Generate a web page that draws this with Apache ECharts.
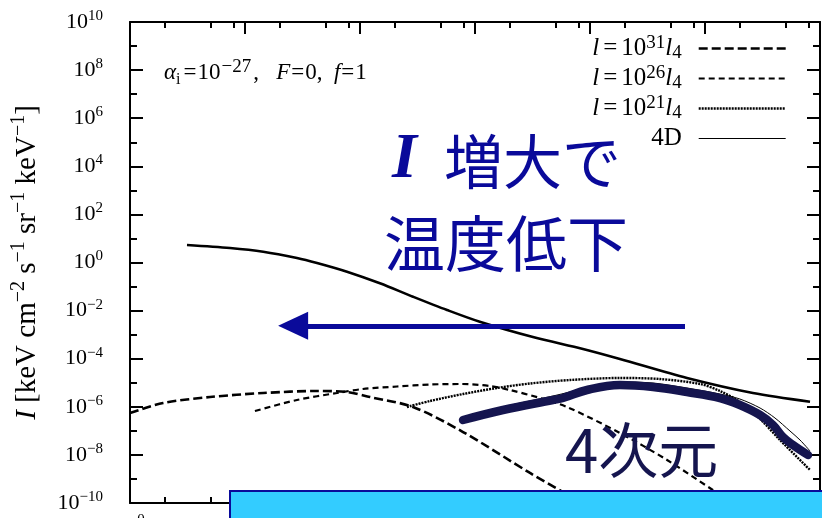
<!DOCTYPE html>
<html>
<head>
<meta charset="utf-8">
<script src="https://cdn.jsdelivr.net/npm/echarts@6/dist/echarts.min.js"></script>
<style>
  html, body { margin: 0; padding: 0; background: #ffffff; }
  #chart { width: 822px; height: 518px; }
</style>
</head>
<body>
<div id="chart"></div>
<script>
// ---- tick positions (photon energy on x, intensity on y, both logarithmic) ----
const xMajorTicks = [1, 10, 100, 1e3, 1e4, 1e5, 1e6];
const xMinorTicks = [2, 5, 8, 20, 50, 80, 200, 500, 800, 2e3, 5e3, 8e3,
                     2e4, 5e4, 8e4, 2e5, 5e5, 8e5];
const yMajorTicks = [1e-10, 1e-8, 1e-6, 1e-4, 1e-2, 1, 1e2, 1e4, 1e6, 1e8, 1e10];
const yMinorTicks = [1e-9, 1e-7, 1e-5, 1e-3, 1e-1, 1e1, 1e3, 1e5, 1e7, 1e9];

// ---- spectra ----
// upper solid spectrum
const upperE = [3.13, 7.41, 14.4, 28.3, 42.3, 77.1, 149, 289, 571, 1100, 3190, 8690, 18200, 69700, 261000, 819000];
const upperI = [5.35, 4.01, 2.81, 1.54, 0.953, 0.414, 0.136, 0.0378, 0.0106, 3.45e-3, 7.98e-4, 2.53e-4, 9.73e-5, 1.58e-5, 3.75e-6, 1.63e-6];
// l = 10^31 l4
const l31E = [1, 1.94, 4.97, 14.4, 42.3, 77.1, 122, 289, 787, 3010, 5820, 10000];
const l31I = [5.52e-7, 1.44e-6, 2.55e-6, 3.75e-6, 4.54e-6, 4.12e-6, 2.55e-6, 9.82e-7, 8.95e-8, 1.77e-9, 2.86e-10, 6.19e-11];
// l = 10^26 l4
const l26E = [12.2, 28.3, 63.1, 106, 210, 406, 741, 1350, 2010, 3670, 6310, 18200, 46800, 117000, 201000];
const l26I = [6.68e-7, 1.92e-6, 3.75e-6, 5.50e-6, 6.98e-6, 8.45e-6, 8.87e-6, 7.33e-6, 5.00e-6, 2.32e-6, 9.82e-7, 8.15e-8, 6.14e-9, 3.48e-10, 6.82e-11];
// l = 10^21 l4
const l21E = [256, 406, 787, 1550, 3010, 6700, 18200, 40600, 90600, 135000, 201000, 301000, 449000, 819000];
const l21I = [9.82e-7, 1.74e-6, 3.40e-6, 6.05e-6, 9.31e-6, 1.30e-5, 1.58e-5, 1.43e-5, 8.87e-6, 4.54e-6, 1.58e-6, 3.11e-7, 4.17e-8, 2.36e-9];
// 4D
const fourDE = [818, 1750, 4760, 9420, 18200, 35300, 69700, 135000, 201000, 301000, 406000, 548000, 670000, 819000];
const fourDI = [3.42e-7, 9.82e-7, 2.81e-6, 6.05e-6, 1.07e-5, 9.77e-6, 6.05e-6, 3.40e-6, 2.11e-6, 8.91e-7, 3.42e-7, 9.86e-8, 4.17e-8, 1.45e-8];
// hand-drawn highlight along the 4D spectrum
const traceE = [787, 1750, 4760, 5820, 9420, 18200, 35300, 69700, 135000, 201000, 301000, 390000, 476000, 582000, 787000];
const traceI = [2.82e-7, 7.36e-7, 1.92e-6, 2.32e-6, 5.00e-6, 8.05e-6, 6.65e-6, 4.12e-6, 2.32e-6, 1.19e-6, 4.56e-7, 1.75e-7, 5.55e-8, 2.58e-8, 9.91e-9];

// arrow: "I increases -> temperature drops"
const arrowFromE = 67000;
const arrowToE = 26.2;
const arrowI = 2.34e-3;

const SERIF = "'Liberation Serif', 'Times New Roman', serif";
const CJK = "'Noto Sans CJK JP', 'Noto Sans CJK SC', sans-serif";
const BLUE = '#0a0a9a';
const NAVY = '#15154f';

const zip = (xs, ys) => xs.map((x, i) => [x, ys[i]]);

const powerLabel = v => {
  const e = Math.round(Math.log10(v));
  return '{b|10}{s|' + (e < 0 ? '\u2212' : '') + Math.abs(e) + '}';
};
const tickRich = {
  b: { fontFamily: SERIF, fontSize: 22, lineHeight: 27, color: '#000' },
  s: { fontFamily: SERIF, fontSize: 15, lineHeight: 15, color: '#000', verticalAlign: 'top' }
};

const frame = { show: true, lineStyle: { color: '#000', width: 2 } };
const noLine = { show: false };

function xAxisDef(grid, pos, ticks, len, withLine, withLabel) {
  return {
    gridIndex: grid, type: 'log', logBase: 10, min: 1, max: 1e6, position: pos,
    axisLine: withLine ? frame : noLine,
    axisTick: { show: true, inside: true, length: len, customValues: ticks,
                lineStyle: { color: '#000', width: 2 } },
    axisLabel: withLabel
      ? { show: true, customValues: ticks, formatter: powerLabel, rich: tickRich, margin: 10 }
      : { show: false },
    splitLine: { show: false }, minorTick: { show: false }
  };
}
function yAxisDef(grid, pos, ticks, len, withLine, withLabel) {
  const ax = {
    gridIndex: grid, type: 'log', logBase: 10, min: 1e-10, max: 1e10, position: pos,
    axisLine: withLine ? frame : noLine,
    axisTick: { show: true, inside: true, length: len, customValues: ticks,
                lineStyle: { color: '#000', width: 2 } },
    axisLabel: withLabel
      ? { show: true, customValues: ticks, formatter: powerLabel, rich: tickRich, margin: 27 }
      : { show: false },
    splitLine: { show: false }, minorTick: { show: false }
  };
  if (withLabel) {
    ax.name = '{i|I} [keV cm{s|\u22122} s{s|\u22121} sr{s|\u22121} keV{s|\u22121}]';
    ax.nameLocation = 'middle';
    ax.nameRotate = 90;
    ax.nameGap = 80;
    ax.nameTextStyle = {
      fontFamily: SERIF, fontSize: 29, lineHeight: 38, color: '#000',
      rich: {
        i: { fontFamily: SERIF, fontSize: 29, lineHeight: 38, fontStyle: 'italic', color: '#000' },
        s: { fontFamily: SERIF, fontSize: 20, lineHeight: 19, verticalAlign: 'top', color: '#000' }
      }
    };
  }
  return ax;
}

const legendNames = {
  'l31': '{i|l}{e|=}{n|10}{p|31}{i|l}{d|4}',
  'l26': '{i|l}{e|=}{n|10}{p|26}{i|l}{d|4}',
  'l21': '{i|l}{e|=}{n|10}{p|21}{i|l}{d|4}',
  '4D': '{n|4D}'
};

const lineSeries = (name, xs, ys, width, dash, extra) => Object.assign({
  type: 'line', name: name, data: zip(xs, ys),
  xAxisIndex: 0, yAxisIndex: 0,
  symbol: 'none', showSymbol: false, smooth: 0.3, clip: true,
  itemStyle: { color: '#000' },
  lineStyle: { color: '#000', width: width, type: dash, cap: 'butt' },
  emphasis: { disabled: true }, silent: true
}, extra || {});

const chart = echarts.init(document.getElementById('chart'), null, { renderer: 'canvas' });
chart.setOption({
  animation: false,
  backgroundColor: '#ffffff',
  grid: [
    { left: 130, top: 22, width: 690, height: 481, outerBoundsMode: 'none', containLabel: false },
    { left: 130, top: 22, width: 690, height: 481, outerBoundsMode: 'none', containLabel: false }
  ],
  xAxis: [
    xAxisDef(0, 'bottom', xMajorTicks, 12, true, true),
    xAxisDef(0, 'top', xMajorTicks, 12, true, false),
    xAxisDef(1, 'bottom', xMinorTicks, 6, false, false),
    xAxisDef(1, 'top', xMinorTicks, 6, false, false)
  ],
  yAxis: [
    yAxisDef(0, 'left', yMajorTicks, 13, true, true),
    yAxisDef(0, 'right', yMajorTicks, 13, true, false),
    yAxisDef(1, 'left', yMinorTicks, 7, false, false),
    yAxisDef(1, 'right', yMinorTicks, 7, false, false)
  ],
  legend: {
    data: [
      { name: 'l31', lineStyle: { width: 2.6 } },
      { name: 'l26', lineStyle: { width: 2.2 } },
      { name: 'l21', lineStyle: { width: 2.4 } },
      { name: '4D', lineStyle: { width: 1 } }
    ],
    orient: 'vertical', right: 35, top: 34, align: 'right',
    itemWidth: 87, itemHeight: 14, itemGap: 1, padding: 0,
    selectedMode: false,
    itemStyle: { opacity: 0 },
    formatter: n => legendNames[n],
    textStyle: {
      fontFamily: SERIF, fontSize: 25, lineHeight: 29, color: '#000', padding: [0, 12, 0, 0],
      rich: {
        i: { fontFamily: SERIF, fontSize: 25, lineHeight: 29, fontStyle: 'italic', color: '#000' },
        e: { fontFamily: SERIF, fontSize: 25, lineHeight: 29, color: '#000', padding: [0, 4, 0, 4] },
        n: { fontFamily: SERIF, fontSize: 25, lineHeight: 29, color: '#000' },
        p: { fontFamily: SERIF, fontSize: 19, lineHeight: 15, verticalAlign: 'top', color: '#000' },
        d: { fontFamily: SERIF, fontSize: 19, lineHeight: 12, verticalAlign: 'bottom', color: '#000' }
      }
    }
  },
  series: [
    lineSeries('l31', l31E, l31I, 2.6, [9, 4]),
    lineSeries('l26', l26E, l26I, 2.2, [6, 4]),
    lineSeries('l21', l21E, l21I, 2.4, [2, 1]),
    lineSeries('4D', fourDE, fourDI, 1, 'solid'),
    lineSeries('upper', upperE, upperI, 2.6, 'solid', {
      markLine: {
        silent: true, animation: false,
        symbol: ['none', 'triangle'], symbolSize: [28, 30],
        label: { show: false },
        lineStyle: { color: BLUE, width: 5, type: 'solid' },
        data: [[{ coord: [arrowFromE, arrowI] }, { coord: [arrowToE, arrowI] }]]
      }
    }),
    lineSeries('trace', traceE, traceI, 8.5, 'solid', {
      smooth: 0.4, z: 5,
      lineStyle: { color: NAVY, width: 8.5, type: 'solid', cap: 'round', join: 'round' }
    })
  ],
  graphic: [
    {
      type: 'text', x: 164, y: 73, z: 10,
      style: {
        text: '{g|\u03b1}{b|i}{e|=}{n|10}{p|\u221227}{n|,   }{g|F}{e|=}{n|0,  }{g|f}{e|=}{n|1}',
        verticalAlign: 'middle', align: 'left',
        fontFamily: SERIF, fontSize: 23, fill: '#000',
        rich: {
          g: { fontFamily: SERIF, fontSize: 23, lineHeight: 30, fontStyle: 'italic', fill: '#000' },
          n: { fontFamily: SERIF, fontSize: 23, lineHeight: 30, fill: '#000' },
          e: { fontFamily: SERIF, fontSize: 23, lineHeight: 30, fill: '#000', padding: [0, 1, 0, 1] },
          p: { fontFamily: SERIF, fontSize: 19, lineHeight: 15, verticalAlign: 'top', fill: '#000',
               padding: [0, 2, 0, 1] },
          b: { fontFamily: SERIF, fontSize: 16, lineHeight: 12, verticalAlign: 'bottom', fill: '#000',
               padding: [0, 2, 0, 0] }
        }
      }
    },
    {
      type: 'text', x: 392, y: 160, z: 10,
      style: { text: 'I', fontFamily: SERIF, fontStyle: 'italic', fontWeight: 'bold',
               fontSize: 64, fill: BLUE, verticalAlign: 'middle', align: 'left' }
    },
    {
      type: 'text', x: 444, y: 162, z: 10,
      style: { text: '増大で', fontFamily: CJK, fontSize: 59, fill: BLUE,
               verticalAlign: 'middle', align: 'left' }
    },
    {
      type: 'text', x: 384, y: 244, z: 10,
      style: { text: '温度低下', fontFamily: CJK, fontSize: 61, fill: BLUE,
               verticalAlign: 'middle', align: 'left' }
    },
    {
      type: 'text', x: 565, y: 450, z: 10,
      style: { text: '4次元', fontFamily: CJK, fontSize: 60, fill: NAVY,
               verticalAlign: 'middle', align: 'left' }
    },
    {
      type: 'rect', z: 20,
      shape: { x: 230, y: 491, width: 600, height: 40 },
      style: { fill: '#33ccff', stroke: BLUE, lineWidth: 2 }
    }
  ]
});
</script>
</body>
</html>
